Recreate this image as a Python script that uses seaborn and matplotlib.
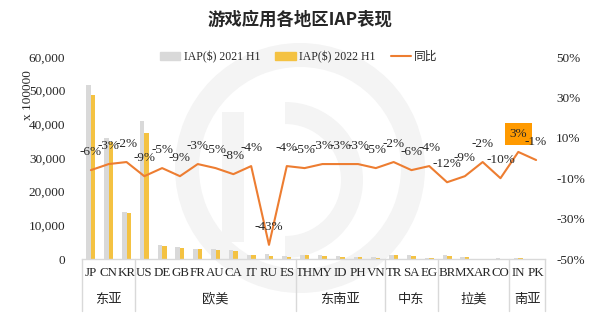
import numpy as np
import pandas as pd
import matplotlib
matplotlib.use("Agg")
import matplotlib.pyplot as plt
from matplotlib.patches import Patch, Wedge, Rectangle
from matplotlib.lines import Line2D
import seaborn as sns

# ---- data -------------------------------------------------------------
categories = ["JP", "CN", "KR", "US", "DE", "GB", "FR", "AU", "CA", "IT", "RU", "ES",
              "TH", "MY", "ID", "PH", "VN", "TR", "SA", "EG", "BR", "MX", "AR", "CO",
              "IN", "PK"]
region_names = ["东亚", "欧美", "东南亚", "中东", "拉美", "南亚"]
region_sizes = [3, 9, 5, 3, 4, 2]
iap_2021 = [51700, 36000, 13900, 40900, 4150, 3650, 2950, 2900, 2700, 1300, 1500, 750,
            1200, 1050, 750, 550, 450, 1150, 1050, 250, 1150, 600, 100, 150, 400, 60]
iap_2022 = [48600, 34700, 13600, 37300, 3900, 3300, 2850, 2750, 2450, 1150, 850, 700,
            1150, 1000, 700, 520, 420, 1100, 980, 240, 1000, 550, 100, 140, 420, 60]
yoy = [-6, -3, -2, -9, -5, -9, -3, -5, -8, -4, -43, -4, -5, -3, -3, -3, -5, -2, -6, -4,
       -12, -9, -2, -10, 3, -1]
series_names = ["IAP($) 2021 H1", "IAP($) 2022 H1"]
left_ticks = [0, 10000, 20000, 30000, 40000, 50000, 60000]
right_ticks = [-50, -30, -10, 10, 30, 50]

GRAY = "#D9D9D9"
YELLOW = "#F4C242"
ORANGE = "#ED7D31"
HILITE = "#FF9A00"
TEXT = "#262626"
LINEC = "#D9D9D9"
LOGO = "#F4F4F4"

sns.set_theme(style="white")
plt.rcParams["font.family"] = ["Liberation Serif", "Noto Sans CJK SC"]
plt.rcParams["axes.unicode_minus"] = False

fig = plt.figure(figsize=(6.0, 3.22), dpi=100)

# faint round logo in the background
W, H = 600, 322
def fx(px):
    return px / W
def fy(py):
    return 1 - py / H
bg = fig.add_axes([0, 0, 1, 1], zorder=-5)
bg.set_xlim(0, W)
bg.set_ylim(H, 0)
bg.axis("off")
bg.add_patch(Wedge((300, 168), 125, 0, 360, width=24, color=LOGO, lw=0))
bg.add_patch(Wedge((285, 180), 78, -90, 90, width=22, color=LOGO, lw=0))
bg.add_patch(Rectangle((222, 112), 22, 130, color=LOGO, lw=0))

ax = fig.add_axes([fx(82), fy(259), fx(545) - fx(82), fy(57) - fy(259)])
ax.patch.set_alpha(0)

df = pd.DataFrame({
    "cat": categories * 2,
    "val": iap_2021 + iap_2022,
    "series": [series_names[0]] * len(categories) + [series_names[1]] * len(categories),
})
sns.barplot(data=df, x="cat", y="val", hue="series", order=categories,
            hue_order=series_names, palette=[GRAY, YELLOW], width=0.5,
            saturation=1, ax=ax, legend=False, linewidth=0)

ax.set_ylim(0, 60000)
ax.set_yticks(left_ticks)
ax.set_yticklabels([f"{v:,}" for v in left_ticks], fontsize=9.5, color=TEXT)
ax.set_xlim(-0.5, len(categories) - 0.5)
ax.set_xlabel("")
ax.set_ylabel("")
ax.tick_params(axis="y", length=0, pad=12)
ax.tick_params(axis="x", length=0, pad=6, labelsize=9.3, colors=TEXT)
for s in ["top", "right", "left"]:
    ax.spines[s].set_visible(False)
ax.spines["bottom"].set_color(LINEC)
ax.spines["bottom"].set_linewidth(1)

# region separators and names under the category labels
bounds = np.concatenate([[0], np.cumsum(region_sizes)]) - 0.5
trans = ax.get_xaxis_transform()
for b in bounds:
    ax.plot([b, b], [0, -0.255], transform=trans, color=LINEC, lw=1, clip_on=False)
for name, lo, hi in zip(region_names, bounds[:-1], bounds[1:]):
    ax.text((lo + hi) / 2, -0.2, name, transform=trans, ha="center", va="center",
            fontsize=9.5, color=TEXT, family=["Noto Sans CJK SC"])

# year-over-year line on the right axis
ax2 = ax.twinx()
ax2.set_zorder(ax.get_zorder() + 1)
ax2.patch.set_alpha(0)
xs = np.arange(len(categories))
sns.lineplot(x=xs, y=yoy, ax=ax2, color=ORANGE, linewidth=1.5)
ax2.set_ylim(-50, 50)
ax2.set_yticks(right_ticks)
ax2.set_yticklabels([f"{v}%" for v in right_ticks], fontsize=9.5, color=TEXT)
ax2.tick_params(axis="y", length=0, pad=8)
for s in ["top", "right", "left", "bottom"]:
    ax2.spines[s].set_visible(False)
ax2.set_ylabel("")

for x, v in zip(xs, yoy):
    kw = {}
    if v == max(yoy):
        kw["bbox"] = dict(boxstyle="square,pad=0.35", fc=HILITE, ec="none")
    ax2.annotate(f"{v}%", (x, v), xytext=(0, 13), textcoords="offset points",
                 ha="center", va="center", fontsize=9.5, color=TEXT, **kw)

fig.text(fx(300), fy(20), "游戏应用各地区IAP表现", ha="center", va="center",
         fontsize=12.5, fontweight="bold", color=TEXT,
         family=["Noto Sans CJK SC"])
fig.text(fx(28), fy(95), "x 100000", rotation=90, ha="center", va="center",
         fontsize=9.5, color=TEXT)

handles = [Patch(color=GRAY), Patch(color=YELLOW), Line2D([], [], color=ORANGE, lw=1.5)]
fig.legend(handles, series_names + ["同比"], loc="center", ncol=3,
           bbox_to_anchor=(fx(299), fy(57)), frameon=False, fontsize=8.5,
           handlelength=1.7, handleheight=0.6, handletextpad=0.3, columnspacing=1.3,
           labelcolor=TEXT)

fig.savefig("out.png", dpi=100)
